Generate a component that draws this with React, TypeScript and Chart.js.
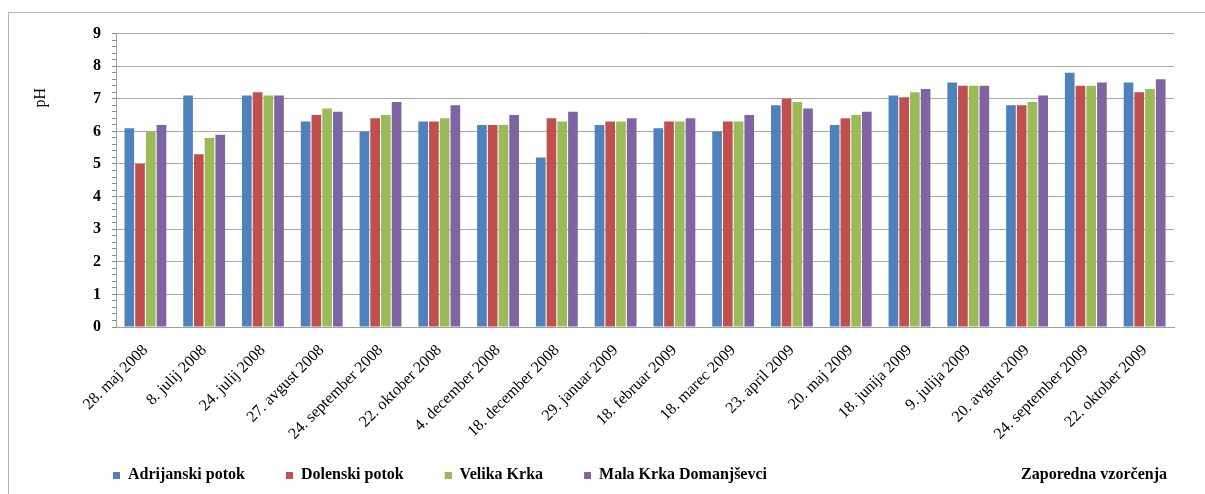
import React, { useEffect, useRef } from 'react';
import { Chart, registerables } from 'chart.js';

Chart.register(...registerables);

const categories = [
  '28. maj 2008', '8. julij 2008', '24. julij 2008', '27. avgust 2008', '24. september 2008',
  '22. oktober 2008', '4. december 2008', '18. december 2008', '29. januar 2009', '18. februar 2009',
  '18. marec 2009', '23. april 2009', '20. maj 2009', '18. junija 2009', '9. julija 2009',
  '20. avgust 2009', '24. september 2009', '22. oktober 2009',
];

const adrijanskiPotok = [6.1, 7.1, 7.1, 6.3, 6.0, 6.3, 6.2, 5.2, 6.2, 6.1, 6.0, 6.8, 6.2, 7.1, 7.5, 6.8, 7.8, 7.5];
const dolenskiPotok = [5.0, 5.3, 7.2, 6.5, 6.4, 6.3, 6.2, 6.4, 6.3, 6.3, 6.3, 7.0, 6.4, 7.05, 7.4, 6.8, 7.4, 7.2];
const velikaKrka = [6.0, 5.8, 7.1, 6.7, 6.5, 6.4, 6.2, 6.3, 6.3, 6.3, 6.3, 6.9, 6.5, 7.2, 7.4, 6.9, 7.4, 7.3];
const malaKrka = [6.2, 5.9, 7.1, 6.6, 6.9, 6.8, 6.5, 6.6, 6.4, 6.4, 6.5, 6.7, 6.6, 7.3, 7.4, 7.1, 7.5, 7.6];

const seriesNames = ['Adrijanski potok', 'Dolenski potok', 'Velika Krka', 'Mala Krka Domanjševci'];
const seriesColors = ['#4F81BD', '#C0504D', '#9BBB59', '#8064A2'];

const yTitle = 'pH';
const xTitle = 'Zaporedna vzorčenja';
const yMin = 0;
const yMax = 9;
const yMinorCount = 45; // minor ticks every 0.2

const SERIF = "'Liberation Serif', 'Times New Roman', serif";

const isWhole = (v: number) => Math.abs(v - Math.round(v)) < 1e-6;

// legend marker: transparent lead-in space followed by a small square
const MARKER_LEAD = 17;
const MARKER_SIZE = 7;
function makeMarker(color: string) {
  const c = document.createElement('canvas');
  c.width = MARKER_LEAD + MARKER_SIZE;
  c.height = MARKER_SIZE;
  const g = c.getContext('2d');
  if (g) {
    g.fillStyle = color;
    g.fillRect(MARKER_LEAD, 0, MARKER_SIZE, MARKER_SIZE);
  }
  return c;
}

const titlesPlugin = {
  id: 'extraTitles',
  afterDraw(chart: any) {
    const { ctx, chartArea } = chart;
    ctx.save();
    ctx.fillStyle = '#000';
    // y title near the top of the axis
    ctx.font = `16px ${SERIF}`;
    ctx.textAlign = 'center';
    ctx.textBaseline = 'middle';
    ctx.save();
    ctx.translate(chartArea.left - 75, chartArea.top + 64);
    ctx.rotate(-Math.PI / 2);
    ctx.fillText(yTitle, 0, 0);
    ctx.restore();
    // x title, bottom right, on the legend row
    ctx.font = `bold 16px ${SERIF}`;
    ctx.textAlign = 'right';
    ctx.fillText(xTitle, chartArea.right - 7, chart.legend ? chart.legend.top + 32 : chart.height - 19);
    ctx.restore();
  },
};

export default function App() {
  const ref = useRef<HTMLCanvasElement | null>(null);

  useEffect(() => {
    if (!ref.current) return;
    const seriesValues = [adrijanskiPotok, dolenskiPotok, velikaKrka, malaKrka];
    const markers = seriesColors.map(makeMarker);
    const chart = new Chart(ref.current, {
      type: 'bar',
      data: {
        labels: categories,
        datasets: seriesNames.map((name, i) => ({
          label: name,
          data: seriesValues[i],
          backgroundColor: seriesColors[i],
          borderWidth: 0,
          categoryPercentage: 0.73,
          barPercentage: 0.9,
        })),
      },
      plugins: [titlesPlugin],
      options: {
        animation: false,
        responsive: false,
        layout: { padding: { left: 63, right: 31, top: 19, bottom: 1 } },
        plugins: {
          legend: {
            position: 'bottom',
            align: 'start',
            labels: {
              usePointStyle: true,
              pointStyleWidth: MARKER_LEAD + MARKER_SIZE,
              boxHeight: MARKER_SIZE,
              padding: 24,
              color: '#000',
              font: { family: SERIF, size: 16, weight: 'bold' },
              generateLabels: (ch: any) =>
                (Chart.defaults.plugins.legend.labels as any).generateLabels(ch).map((item: any) => ({
                  ...item,
                  pointStyle: markers[item.datasetIndex],
                })),
            },
          },
          title: { display: false },
          tooltip: { enabled: false },
        },
        scales: {
          x: {
            grid: { display: false },
            border: { display: true, color: '#a0a0a0' },
            ticks: {
              color: '#000',
              font: { family: SERIF, size: 16 },
              minRotation: 45,
              maxRotation: 45,
              autoSkip: false,
              padding: 6,
            },
            afterFit: (s: any) => { s.height = 116; },
          },
          y: {
            min: yMin,
            max: yMax,
            afterBuildTicks: (s: any) => {
              const step = (yMax - yMin) / yMinorCount;
              s.ticks = Array.from({ length: yMinorCount + 1 }, (_, i) => ({ value: +(yMin + i * step).toFixed(2) }));
            },
            ticks: {
              autoSkip: false,
              color: '#000',
              font: { family: SERIF, size: 16, weight: 'bold' },
              padding: 11,
              callback: (v: any) => (isWhole(Number(v)) ? String(Math.round(Number(v))) : ''),
            },
            grid: {
              color: (c: any) => (c.tick && isWhole(c.tick.value) ? '#a8a8a8' : 'rgba(0,0,0,0)'),
              tickColor: '#8c8c8c',
              tickLength: 4,
              lineWidth: 1,
            },
            border: { color: '#a0a0a0' },
            afterFit: (s: any) => { s.width = 44; },
          },
        },
      },
    } as any);
    return () => chart.destroy();
  }, []);

  return (
    <div
      style={{
        position: 'absolute',
        left: 8,
        top: 12,
        width: 1197,
        height: 482,
        boxSizing: 'border-box',
        borderTop: '1px solid #b4b4b4',
        borderLeft: '1px solid #b4b4b4',
        background: '#fff',
      }}
    >
      <canvas ref={ref} width={1196} height={481} style={{ display: 'block' }} />
    </div>
  );
}
